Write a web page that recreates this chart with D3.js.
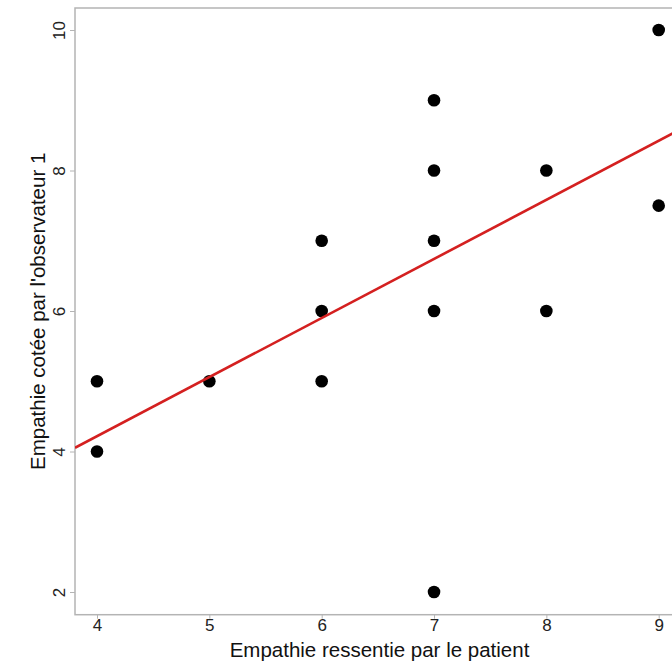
<!DOCTYPE html>
<html><head><meta charset="utf-8">
<script src="https://cdn.jsdelivr.net/npm/d3@7"></script>
<style>body{margin:0;background:#fff}svg{display:block}</style>
</head><body>
<script>
const xVals = [4, 4, 5, 6, 6, 6, 7, 7, 7, 7, 7, 8, 8, 9, 9];
const yVals = [5, 4, 5, 7, 6, 5, 9, 8, 7, 6, 2, 8, 6, 10, 7.5];
const xTicks = [4, 5, 6, 7, 8, 9];
const yTicks = [2, 4, 6, 8, 10];
const fitIntercept = 0.854;
const fitSlope = 0.841;
const xTitle = "Empathie ressentie par le patient";
const yTitle = "Empathie cotée par l'observateur 1";

(function () {
const W = 672, H = 668;
const svg = d3.select("body").append("svg").attr("width", W).attr("height", H);
const font = "Liberation Sans, Arial, sans-serif";

const x = d3.scaleLinear().domain([4, 9]).range([97, 658.7]);
const y = d3.scaleLinear().domain([2, 10]).range([592, 30]);
const pL = 75, pT = 8, pB = 614.7, pR = 684;
const xMin = x.invert(pL), xMax = x.invert(pR);

svg.append("defs").append("clipPath").attr("id", "clip")
  .append("rect").attr("x", pL).attr("y", pT).attr("width", pR - pL).attr("height", pB - pT);

const frame = "#b4b4b4";
svg.append("rect").attr("x", pL).attr("y", pT).attr("width", pR - pL).attr("height", pB - pT)
  .attr("fill", "none").attr("stroke", frame).attr("stroke-width", 1.5);

const xa = svg.append("g").attr("transform", `translate(0,${pB})`)
  .call(d3.axisBottom(x).tickValues(xTicks).tickSize(4).tickPadding(0).tickFormat(d3.format("d")));
xa.select(".domain").remove();
xa.selectAll("line").attr("stroke", frame).attr("stroke-width", 1);
xa.selectAll("text").attr("font-family", font).attr("font-size", 17).attr("fill", "#222");

const ya = svg.append("g").attr("transform", `translate(${pL},0)`)
  .call(d3.axisLeft(y).tickValues(yTicks).tickSize(5).tickPadding(0).tickFormat(d3.format("d")));
ya.select(".domain").remove();
ya.selectAll("line").attr("stroke", frame).attr("stroke-width", 1);
ya.selectAll("text").attr("font-family", font).attr("font-size", 17).attr("fill", "#222")
  .attr("text-anchor", "middle").attr("dy", null).attr("x", null)
  .attr("transform", "translate(-16,0) rotate(-90)").attr("dominant-baseline", "central");

const g = svg.append("g").attr("clip-path", "url(#clip)");
g.selectAll("circle").data(xVals.map((v, i) => [v, yVals[i]])).join("circle")
  .attr("cx", d => x(d[0])).attr("cy", d => y(d[1])).attr("r", 6.3).attr("fill", "#000");

const fx = [xMin, xMax];
g.append("line")
  .attr("x1", x(fx[0])).attr("y1", y(fitIntercept + fitSlope * fx[0]))
  .attr("x2", x(fx[1])).attr("y2", y(fitIntercept + fitSlope * fx[1]))
  .attr("stroke", "#d42020").attr("stroke-width", 2.6);

svg.append("text").attr("x", (pL + pR) / 2).attr("y", 657)
  .attr("text-anchor", "middle").attr("font-family", font).attr("font-size", 20.5).attr("fill", "#111").text(xTitle);
svg.append("text").attr("transform", `translate(37,${(pT + pB) / 2}) rotate(-90)`)
  .attr("text-anchor", "middle").attr("dominant-baseline", "central")
  .attr("font-family", font).attr("font-size", 20.5).attr("fill", "#111").text(yTitle);
})();
</script>
</body></html>
